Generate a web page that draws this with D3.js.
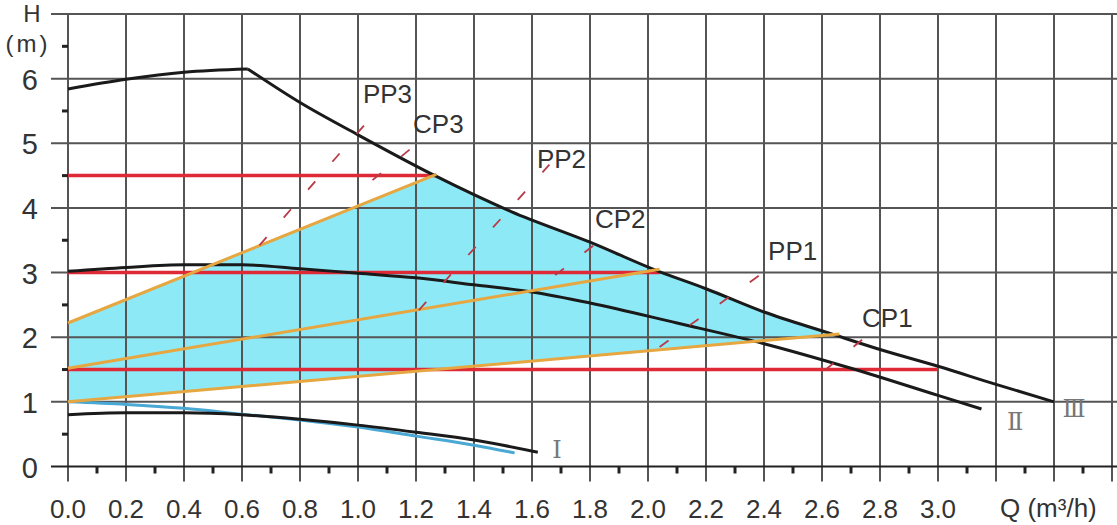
<!DOCTYPE html>
<html>
<head>
<meta charset="utf-8">
<script src="https://cdn.jsdelivr.net/npm/d3@7"></script>
<style>
  body { margin: 0; background: #fff; }
  svg { display: block; }
</style>
</head>
<body>
<div id="chart"></div>
<script>
// pump curves (Q in m3/h, H in m)
const curveIII = [[0,5.84],[0.2,5.99],[0.4,6.10],[0.62,6.15],[0.8,5.63],[1.0,5.13],[1.26,4.51],[1.53,3.94],[1.8,3.47],[2.03,3.03],[2.2,2.75],[2.4,2.39],[2.62,2.07],[2.8,1.81],[3.0,1.55],[3.2,1.27],[3.4,1.0]];
const curveII = [[0,3.02],[0.2,3.08],[0.4,3.12],[0.6,3.12],[0.8,3.06],[1.0,2.99],[1.2,2.92],[1.4,2.81],[1.6,2.70],[1.8,2.53],[2.1,2.22],[2.4,1.90],[2.7,1.52],[3.0,1.10],[3.15,0.89]];
const curveI = [[0,0.80],[0.2,0.83],[0.4,0.83],[0.6,0.80],[0.8,0.73],[1.0,0.64],[1.2,0.53],[1.4,0.41],[1.62,0.22]];
const curveBlue = [[0,1.0],[0.2,0.96],[0.4,0.90],[0.6,0.81],[0.8,0.72],[1.0,0.61],[1.2,0.47],[1.4,0.33],[1.54,0.21]];
const kinkIndex = 3; // curve III bends sharply at Q = 0.62

// constant pressure (red) and control lines (orange)
const redLines = [[[0,4.5],[1.27,4.5]], [[0,3.0],[2.04,3.0]], [[0,1.5],[3.0,1.5]]];
const orangeLines = [[[0,2.22],[1.27,4.52]], [[0,1.52],[2.04,3.05]], [[0,1.0],[2.66,2.05]]];

// dashed guide lines
const dashLines = [
  [[0.66,3.42],[1.08,5.58]],   // PP3
  [[1.05,4.43],[1.21,5.02]],   // CP3
  [[1.21,2.42],[1.66,4.67]],   // PP2
  [[1.68,2.96],[1.85,3.55]],   // CP2
  [[2.04,1.85],[2.45,3.17]],   // PP1
  [[2.61,1.49],[2.76,2.04]]    // CP1
];
const modeNames = ["PP3","CP3","PP2","CP2","PP1","CP1"];
const modeAt = [[1.017,5.63],[1.19,5.16],[1.617,4.62],[1.817,3.69],[2.414,3.20],[2.738,2.16]];

const romanNames = ["Ⅰ","Ⅱ","Ⅲ"];
const romanAt = [[1.686,0.13],[3.266,0.565],[3.469,0.766]];

const xTicks = d3.range(0, 3.01, 0.2);
const xGrid = d3.range(0, 3.61, 0.2);
const xMinor = d3.range(0.1, 3.6, 0.2);
const yTicks = [0,1,2,3,4,5,6];
const yGrid = [0,1,2,3,4,5,6,7];
const yMinor = [0.5,1.5,2.5,3.5,4.5,5.5,6.5];

const W = 1117, H = 525;
const x = d3.scaleLinear().domain([0, 3.6]).range([68, 1112]);
const y = d3.scaleLinear().domain([0, 7]).range([466.5, 14]);

const svg = d3.select("#chart").append("svg")
  .attr("width", W).attr("height", H)
  .style("font-family", "'Liberation Sans', Arial, sans-serif");

const line = d3.line().x(d => x(d[0])).y(d => y(d[1]));
const smooth = d3.line().x(d => x(d[0])).y(d => y(d[1])).curve(d3.curveMonotoneX);

// cyan operating region: under curve III, between the CP3 and CP1 lines
const c3 = orangeLines[0], c1 = orangeLines[2];
const s3 = (c3[1][1] - c3[0][1]) / (c3[1][0] - c3[0][0]);
const s1 = (c1[1][1] - c1[0][1]) / (c1[1][0] - c1[0][0]);
const clipPts = [[0, c1[0][1]], [0, c3[0][1]], [3.6, c3[0][1] + 3.6 * s3], [3.6, c1[0][1] + 3.6 * s1]];
svg.append("defs").append("clipPath").attr("id", "region")
  .append("path").attr("d", line(clipPts) + "Z");

svg.append("path")
  .datum(curveIII)
  .attr("clip-path", "url(#region)")
  .attr("fill", "#8ee9f7")
  .attr("d", d3.area().x(d => x(d[0])).y0(y(0)).y1(d => y(d[1])).curve(d3.curveMonotoneX));

// grid
svg.append("g").selectAll("line").data(xGrid).join("line")
  .attr("x1", d => x(d)).attr("x2", d => x(d))
  .attr("y1", y(7)).attr("y2", y(0) + 15)
  .attr("stroke", "#555").attr("stroke-width", 2);
svg.append("g").selectAll("line").data(yGrid).join("line")
  .attr("x1", 51).attr("x2", W)
  .attr("y1", d => y(d)).attr("y2", d => y(d))
  .attr("stroke", d => d === 0 ? "#222" : "#555").attr("stroke-width", 2);
svg.append("g").selectAll("line").data(xMinor).join("line")
  .attr("x1", d => x(d)).attr("x2", d => x(d))
  .attr("y1", y(0)).attr("y2", y(0) + 7)
  .attr("stroke", "#222").attr("stroke-width", 3);
svg.append("g").selectAll("line").data(yMinor).join("line")
  .attr("x1", x(0) - 6).attr("x2", x(0))
  .attr("y1", d => y(d)).attr("y2", d => y(d))
  .attr("stroke", "#222").attr("stroke-width", 3);

// tick labels
svg.append("g").selectAll("text").data(xTicks).join("text")
  .attr("x", d => x(d)).attr("y", 518)
  .attr("text-anchor", "middle")
  .attr("font-size", 26).attr("fill", "#333")
  .text(d => d3.format(".1f")(d));
svg.append("g").selectAll("text").data(yTicks).join("text")
  .attr("x", 38).attr("y", d => y(d) + 11)
  .attr("text-anchor", "end")
  .attr("font-size", 29).attr("fill", "#333")
  .text(d => d);

svg.append("text").attr("x", 32).attr("y", 22).attr("text-anchor", "middle")
  .attr("font-size", 24).attr("fill", "#333").text("H");
svg.append("text").attr("x", 28).attr("y", 52).attr("text-anchor", "middle")
  .attr("font-size", 24).attr("letter-spacing", 3).attr("fill", "#333").text("(m)");
svg.append("text").attr("x", 1000).attr("y", 517)
  .attr("font-size", 26).attr("fill", "#333").text("Q (m³/h)");

// red constant lines
svg.append("g").selectAll("path").data(redLines).join("path")
  .attr("d", line).attr("fill", "none")
  .attr("stroke", "#dd2a36").attr("stroke-width", 3.5);

// pump curves
svg.append("path").datum(curveBlue).attr("d", smooth)
  .attr("fill", "none").attr("stroke", "#4aa8d4").attr("stroke-width", 3);
[curveIII.slice(0, kinkIndex + 1), curveIII.slice(kinkIndex), curveII, curveI].forEach(c => {
  svg.append("path").datum(c).attr("d", smooth)
    .attr("fill", "none").attr("stroke", "#1a1a1a").attr("stroke-width", 3);
});

// orange control lines
svg.append("g").selectAll("path").data(orangeLines).join("path")
  .attr("d", line).attr("fill", "none")
  .attr("stroke", "#e6a640").attr("stroke-width", 3);

// dashed mode lines
svg.append("g").selectAll("path").data(dashLines).join("path")
  .attr("d", line).attr("fill", "none")
  .attr("stroke", "#b83a48").attr("stroke-width", 1.8)
  .attr("stroke-dasharray", "11,26");

svg.append("g").selectAll("text").data(modeNames).join("text")
  .attr("x", (d, i) => x(modeAt[i][0])).attr("y", (d, i) => y(modeAt[i][1]))
  .attr("font-size", 26).attr("fill", "#333")
  .text(d => d);

svg.append("g").selectAll("text").data(romanNames).join("text")
  .attr("x", (d, i) => x(romanAt[i][0])).attr("y", (d, i) => y(romanAt[i][1]))
  .attr("text-anchor", "middle")
  .attr("font-family", "'DejaVu Serif', 'Liberation Serif', serif")
  .attr("font-size", 24).attr("fill", "#777")
  .text(d => d);
</script>
</body>
</html>
